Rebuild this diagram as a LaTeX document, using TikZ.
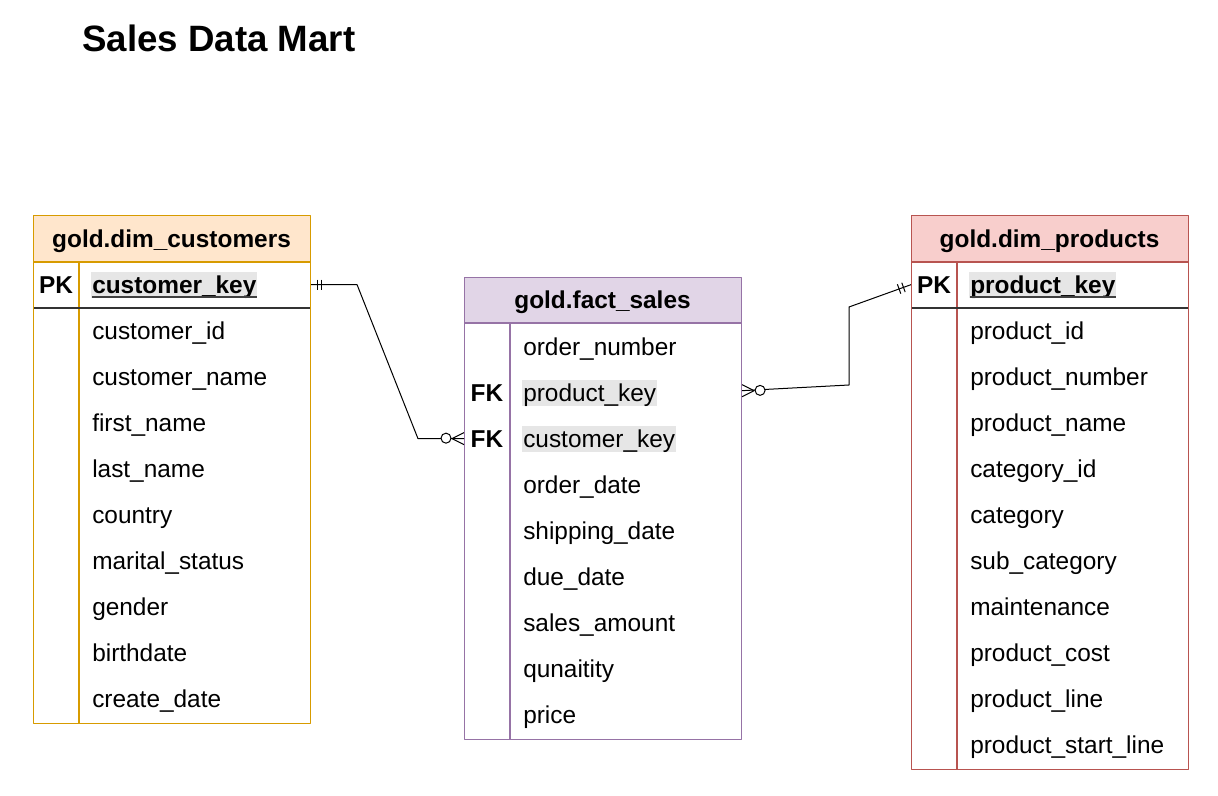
\documentclass[tikz,border=0pt]{standalone}
\usepackage{fontspec}
\setmainfont{Liberation Sans}
\usetikzlibrary{calc}
\definecolor{custfill}{HTML}{FFE6CC}
\definecolor{custline}{HTML}{D79B00}
\definecolor{factfill}{HTML}{E1D5E7}
\definecolor{factline}{HTML}{9673A6}
\definecolor{prodfill}{HTML}{F8CECC}
\definecolor{prodline}{HTML}{B85450}
\definecolor{keyhl}{HTML}{E6E6E6}
\definecolor{sepcol}{HTML}{333333}
\newcommand\rowfnt{\fontsize{18.3}{22}\selectfont}
\tikzset{
  field/.style={anchor=base west, inner sep=0pt, font=\rowfnt, text height=16pt, text depth=3.5pt},
  hlfield/.style={field, fill=keyhl, inner xsep=0.75pt},
  keymark/.style={anchor=base, inner sep=0pt, font=\rowfnt\bfseries},
  headtext/.style={anchor=base, inner sep=0pt, font=\rowfnt\bfseries},
  frame/.style={draw, line width=0.8pt, anchor=north west, inner sep=0pt, minimum width=207.75pt},
  tline/.style={line width=0.8pt},
  conn/.style={draw=black, line width=0.75pt},
  ulinest/.style={line width=1pt, draw=black!75}
}
\begin{document}
\begin{tikzpicture}[x=0.75pt,y=-0.75pt,line join=round]
\useasboundingbox (0,0) rectangle (1218,796);
\node[anchor=base west, inner sep=0pt, font=\fontsize{27.5}{32}\selectfont\bfseries] (title) at (82,51) {Sales Data Mart};

% ---------- customers ----------
\fill[custfill] (33,215) rectangle (310,262);
\draw[tline, custline] (33,262) -- (310,262);
\draw[tline, custline] (79,262) -- (79,723);
\draw[tline, sepcol] (33,308) -- (310,308);
\node[frame, draw=custline, minimum height=381pt] (cust) at (33,215) {};
\node[headtext] (custhead) at (171.5,247) {gold.dim\_customers};
\node[keymark] (custpkm) at (56,293) {PK};
\node[hlfield, font=\rowfnt\bfseries] (custpk) at (91,293) {customer\_key};
\draw[ulinest] ($(custpk.base west)+(1,4)$) -- ($(custpk.base east)+(-1,4)$);
\foreach \t [count=\i from 0] in {customer\_id, customer\_name, first\_name, last\_name, country, marital\_status, gender, birthdate, create\_date}
  \node[field] (c\i) at (92,{339+46.1*\i}) {\t};

% ---------- fact ----------
\fill[factfill] (464,277) rectangle (741,323);
\draw[tline, factline] (464,323) -- (741,323);
\draw[tline, factline] (510,323) -- (510,739);
\node[frame, draw=factline, minimum height=346.5pt] (fact) at (464,277) {};
\node[headtext] (facthead) at (602.5,308) {gold.fact\_sales};
\node[field] (f0) at (523,355) {order\_number};
\node[keymark] (fpkm) at (487,401) {FK};
\node[hlfield] (fpk) at (522,401) {product\_key};
\node[keymark] (fckm) at (487,447) {FK};
\node[hlfield] (fck) at (522,447) {customer\_key};
\foreach \t [count=\i from 3] in {order\_date, shipping\_date, due\_date, sales\_amount, qunaitity, price}
  \node[field] (f\i) at (523,{355+46.1*\i}) {\t};

% ---------- products ----------
\fill[prodfill] (911,215) rectangle (1188,262);
\draw[tline, prodline] (911,262) -- (1188,262);
\draw[tline, prodline] (957,262) -- (957,769);
\draw[tline, sepcol] (911,308) -- (1188,308);
\node[frame, draw=prodline, minimum height=415.5pt] (prod) at (911,215) {};
\node[headtext] (prodhead) at (1049.5,247) {gold.dim\_products};
\node[keymark] (prodpkm) at (934,293) {PK};
\node[hlfield, font=\rowfnt\bfseries] (prodpk) at (969,293) {product\_key};
\draw[ulinest] ($(prodpk.base west)+(1,4)$) -- ($(prodpk.base east)+(-1,4)$);
\foreach \t [count=\i from 0] in {product\_id, product\_number, product\_name, category\_id, category, sub\_category, maintenance, product\_cost, product\_line, product\_start\_line}
  \node[field] (p\i) at (970,{339+46.1*\i}) {\t};

% ---------- connector customers -> fact ----------
\coordinate (cs) at (cust.east |- custpk);
\coordinate (ce) at (fact.west |- fck);
\draw[conn] (cs) -- ($(cs)+(46,0)$) -- ($(ce)+(-46,0)$) -- (ce);
\draw[conn] ($(cs)+(6,-5)$) -- ($(cs)+(6,5)$);
\draw[conn] ($(cs)+(10,-5)$) -- ($(cs)+(10,5)$);
\draw[conn] ($(ce)+(0,-6)$) -- ($(ce)+(-12,0)$) -- ($(ce)+(0,6)$);
\draw[conn, fill=white] ($(ce)+(-18,-0.5)$) circle[radius=3.75pt];

% ---------- connector fact -> products ----------
\coordinate (ps) at ($(fact.east |- fpk)+(0,-2)$);
\coordinate (pe) at (prod.west |- prodpk);
\coordinate (pb1) at (849,385);
\coordinate (pb2) at (849,307);
\draw[conn] (ps) -- (pb1) -- (pb2) -- (pe);
\draw[conn] ($(ps)+(0,-6)$) -- ($(ps)+(12,0)$) -- ($(ps)+(0,6)$);
\draw[conn, fill=white] ($(ps)+(18,-0.3)$) circle[radius=3.75pt];
\coordinate (t1) at ($(pe)!6pt!(pb2)$);
\coordinate (t2) at ($(pe)!9.5pt!(pb2)$);
\draw[conn] ($(t1)!3.75pt!90:(pe)$) -- ($(t1)!3.75pt!-90:(pe)$);
\draw[conn] ($(t2)!3.75pt!90:(pe)$) -- ($(t2)!3.75pt!-90:(pe)$);
\end{tikzpicture}
\end{document}
